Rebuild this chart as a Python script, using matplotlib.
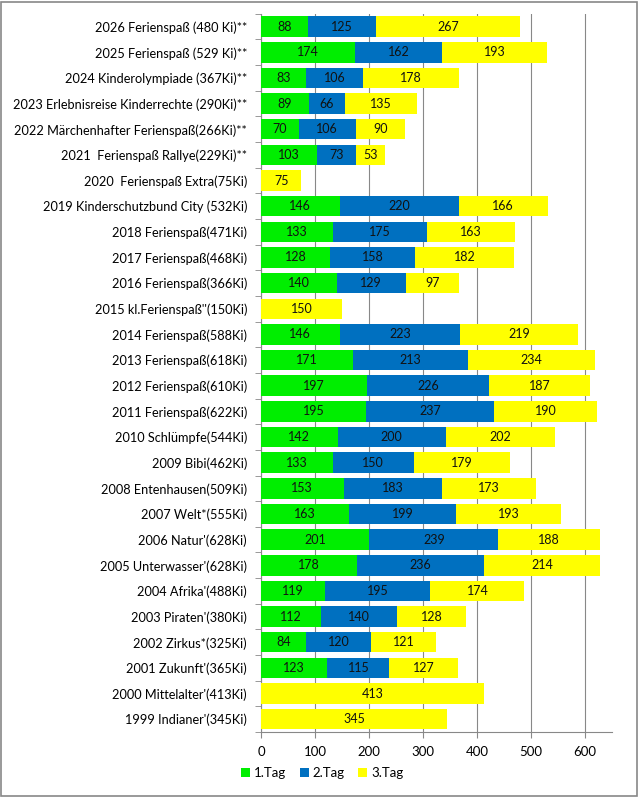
import matplotlib
matplotlib.use("Agg")
import matplotlib.pyplot as plt
from matplotlib.patches import Patch, Rectangle
import numpy as np

plt.rcParams['font.family'] = ['Lato', 'DejaVu Sans']

categories = [
    "1999 Indianer'(345Ki)",
    "2000 Mittelalter'(413Ki)",
    "2001 Zukunft'(365Ki)",
    "2002 Zirkus*(325Ki)",
    "2003 Piraten'(380Ki)",
    "2004 Afrika'(488Ki)",
    "2005 Unterwasser'(628Ki)",
    "2006 Natur'(628Ki)",
    "2007 Welt*(555Ki)",
    "2008 Entenhausen(509Ki)",
    "2009 Bibi(462Ki)",
    "2010 Schlümpfe(544Ki)",
    "2011 Ferienspaß(622Ki)",
    "2012 Ferienspaß(610Ki)",
    "2013 Ferienspaß(618Ki)",
    "2014 Ferienspaß(588Ki)",
    "2015 kl.Ferienspaß''(150Ki)",
    "2016 Ferienspaß(366Ki)",
    "2017 Ferienspaß(468Ki)",
    "2018 Ferienspaß(471Ki)",
    "2019 Kinderschutzbund City (532Ki)",
    "2020  Ferienspaß Extra(75Ki)",
    "2021  Ferienspaß Rallye(229Ki)**",
    "2022 Märchenhafter Ferienspaß(266Ki)**",
    "2023 Erlebnisreise Kinderrechte (290Ki)**",
    "2024 Kinderolympiade (367Ki)**",
    "2025 Ferienspaß (529 Ki)**",
    "2026 Ferienspaß (480 Ki)**",
]
tag1 = [0, 0, 123, 84, 112, 119, 178, 201, 163, 153, 133, 142, 195, 197, 171, 146,
        0, 140, 128, 133, 146, 0, 103, 70, 89, 83, 174, 88]
tag2 = [0, 0, 115, 120, 140, 195, 236, 239, 199, 183, 150, 200, 237, 226, 213, 223,
        0, 129, 158, 175, 220, 0, 73, 106, 66, 106, 162, 125]
tag3 = [345, 413, 127, 121, 128, 174, 214, 188, 193, 173, 179, 202, 190, 187, 234, 219,
        150, 97, 182, 163, 166, 75, 53, 90, 135, 178, 193, 267]
series_names = ["1.Tag", "2.Tag", "3.Tag"]
colors = ["#00EE00", "#0070C0", "#FFFF00"]

fig = plt.figure(figsize=(6.38, 7.98), dpi=100)
ax = fig.add_axes([0.409, 0.0827, 0.55, 0.9])

y = np.arange(len(categories))
left = np.zeros(len(categories))
for vals, col in zip([tag1, tag2, tag3], colors):
    vals = np.array(vals, dtype=float)
    bars = ax.barh(y, vals, left=left, height=0.8, color=col, zorder=3)
    for b, v in zip(bars, vals):
        if v > 0:
            ax.text(b.get_x() + b.get_width() / 2, b.get_y() + b.get_height() / 2,
                    f"{int(v)}", ha='center', va='center', fontsize=9, color='#111111', zorder=4)
    left += vals

ax.set_xlim(0, 650)
ax.set_ylim(-0.5, len(categories) - 0.5)
ax.set_xticks(range(0, 601, 100))
ax.set_yticks(y)
ax.set_yticklabels(categories, fontsize=9.2)
ax.set_yticks(np.arange(-0.5, len(categories), 1), minor=True)
ax.tick_params(axis='y', which='major', length=0, pad=10)
ax.tick_params(axis='y', which='minor', length=4, color='#888888')
ax.tick_params(axis='x', length=4, color='#888888', labelsize=9.5, pad=6)
ax.grid(axis='x', color='#888888', linewidth=0.8, zorder=0)
for s in ['top', 'right']:
    ax.spines[s].set_visible(False)
for s in ['left', 'bottom']:
    ax.spines[s].set_color('#888888')

handles = [Patch(facecolor=c, label=n) for c, n in zip(colors, series_names)]
fig.legend(handles=handles, loc='center', bbox_to_anchor=(0.505, 0.031), ncol=3,
           frameon=False, fontsize=9.5, handlelength=0.7, handleheight=0.7,
           handletextpad=0.3, columnspacing=1.0)

fig.patches.append(Rectangle((0.002, 0.002), 0.996, 0.996, transform=fig.transFigure,
                             fill=False, edgecolor='#888888', linewidth=1.2))
fig.savefig("out.png", dpi=100)
